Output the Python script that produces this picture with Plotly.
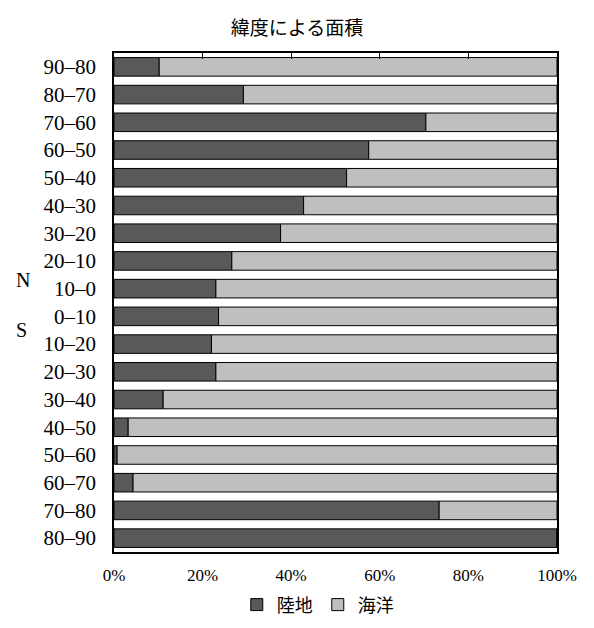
import plotly.graph_objects as go

# latitude bands, top to bottom
bands = ["90–80", "80–70", "70–60", "60–50", "50–40", "40–30", "30–20", "20–10", "10–0",
         "0–10", "10–20", "20–30", "30–40", "40–50", "50–60", "60–70", "70–80", "80–90"]
land = [10.2, 29.2, 70.4, 57.5, 52.5, 42.8, 37.6, 26.6, 23.0,
        23.6, 22.0, 23.0, 11.1, 3.2, 0.7, 4.3, 73.4, 100.0]
ocean = [100 - v for v in land]

x_ticks = [0, 20, 40, 60, 80, 100]
x_ticktext = ["0%", "20%", "40%", "60%", "80%", "100%"]

serif = "Liberation Serif, Noto Sans CJK JP, serif"
cjk = "Noto Sans CJK JP"

fig = go.Figure()
fig.add_trace(go.Bar(
    y=bands, x=land, orientation="h", name="陸地",
    marker=dict(color="#595959", line=dict(color="black", width=1)),
))
# ocean share drawn on the top axis so its inward ticks show
fig.add_trace(go.Bar(
    y=bands, x=ocean, base=land, orientation="h", name="海洋", xaxis="x2",
    marker=dict(color="#bfbfbf", line=dict(color="black", width=1)),
))

fig.add_annotation(text="N", x=-0.226, y=0.545, xref="paper", yref="paper",
                   showarrow=False, font=dict(size=20, family=serif, color="black"))
fig.add_annotation(text="S", x=-0.226, y=0.445, xref="paper", yref="paper",
                   showarrow=False, font=dict(size=20, family=serif, color="black"))

fig.update_layout(
    barmode="overlay",
    bargap=0.33,
    width=594,
    height=628,
    margin=dict(l=106, r=45, t=45, b=84, autoexpand=False),
    plot_bgcolor="white",
    paper_bgcolor="white",
    font=dict(family=serif, color="black"),
    title=dict(text="緯度による面積", x=0.4865, xanchor="center", y=0.968, yanchor="middle",
               xref="container", font=dict(size=19, family=cjk, color="black")),
    legend=dict(orientation="h", x=0.46, xanchor="center", y=-0.106, yanchor="middle",
                font=dict(size=18, family=cjk), traceorder="normal"),
    xaxis=dict(range=[0, 100], tickvals=x_ticks, ticktext=x_ticktext, showgrid=False,
               zeroline=False, showline=True, linecolor="black", linewidth=1.5, mirror=True,
               ticks="", ticklabelstandoff=7, tickfont=dict(size=17, family=serif)),
    xaxis2=dict(range=[0, 100], tickvals=x_ticks, overlaying="x", side="top",
                showticklabels=False, ticks="inside", ticklen=6, tickcolor="black",
                tickwidth=1, showgrid=False, zeroline=False, showline=False),
    yaxis=dict(type="category", categoryorder="array", categoryarray=bands,
               autorange="reversed", showgrid=False, zeroline=False, showline=True,
               linecolor="black", linewidth=1.5, mirror=True, ticks="",
               ticklabelstandoff=12, tickfont=dict(size=21, family=serif)),
)

fig.write_html("out.html")
